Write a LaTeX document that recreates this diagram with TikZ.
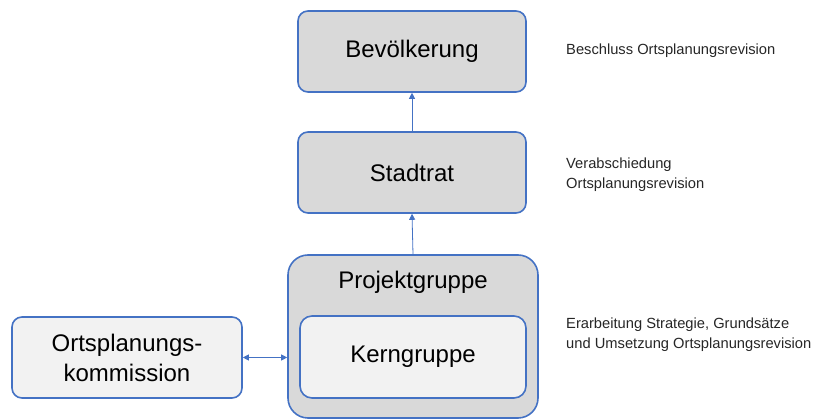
\documentclass[tikz,border=0pt]{standalone}
\usepackage{fontspec}
\setmainfont{Liberation Sans}
\usetikzlibrary{arrows.meta}
\definecolor{bblue}{HTML}{4472C4}
\definecolor{dgray}{HTML}{D9D9D9}
\definecolor{lgray}{HTML}{F2F2F2}
\begin{document}
\begin{tikzpicture}[x=1pt,y=-1pt,
  box/.style={draw=bblue,line width=1.6pt,rounded corners=10pt,inner sep=0pt,font=\fontsize{24}{30}\selectfont,align=center},
  dbox/.style={box,fill=dgray},
  lbox/.style={box,fill=lgray},
  conn/.style={draw=bblue,line width=0.8pt},
  note/.style={anchor=north west,inner sep=0pt,align=left,font=\fontsize{14.7}{20}\selectfont,text=black!85}]
\useasboundingbox (0,0) rectangle (815,419);
\node[dbox,minimum width=228pt,minimum height=81pt] (bev) at (412,51.5) {Bevölkerung};
\node[dbox,minimum width=228pt,minimum height=81pt] (stadt) at (412,172.5) {Stadtrat};
\node[dbox,rounded corners=20pt,minimum width=250pt,minimum height=163pt] (proj) at (413,336.5) {};
\node[inner sep=0pt,font=\fontsize{24}{30}\selectfont] (projl) at (413,282) {Projektgruppe};
\node[lbox,rounded corners=12pt,minimum width=226pt,minimum height=82pt] (kern) at (413,357) {Kerngruppe};
\node[lbox,minimum width=230pt,minimum height=81pt] (orts) at (127,357.5) {Ortsplanungs-\\kommission};
\draw[conn,-{Triangle[width=6pt,length=6pt]}] (stadt.north) -- (bev.south);
\draw[conn,-{Triangle[width=6pt,length=6pt]}] (proj.north) -- (stadt.south);
\draw[conn,{Triangle[width=6pt,length=6pt]}-{Triangle[width=6pt,length=6pt]}] (orts.east) -- (proj.west |- orts.east);
\node[note] (n1) at (566,44) {Beschluss Ortsplanungsrevision};
\node[note] (n2) at (566,157.5) {Verabschiedung\\Ortsplanungsrevision};
\node[note] (n3) at (566,317.5) {Erarbeitung Strategie, Grundsätze\\und Umsetzung Ortsplanungsrevision};
\end{tikzpicture}
\end{document}
